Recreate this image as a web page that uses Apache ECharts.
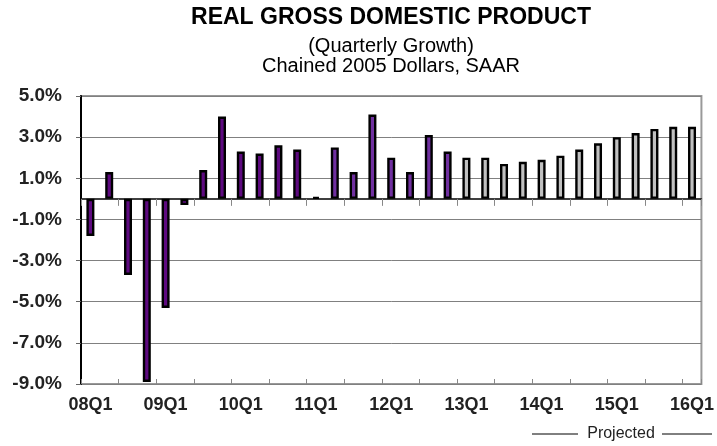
<!DOCTYPE html>
<html>
<head>
<meta charset="utf-8">
<script src="https://cdn.jsdelivr.net/npm/echarts@6/dist/echarts.min.js"></script>
<style>
  html, body { margin: 0; padding: 0; background: #fff; }
  #chart { width: 717px; height: 446px; }
</style>
</head>
<body>
<div id="chart"></div>
<script>
var quarters = ['08Q1', '08Q2', '08Q3', '08Q4', '09Q1', '09Q2', '09Q3', '09Q4',
  '10Q1', '10Q2', '10Q3', '10Q4', '11Q1', '11Q2', '11Q3', '11Q4',
  '12Q1', '12Q2', '12Q3', '12Q4', '13Q1', '13Q2', '13Q3', '13Q4',
  '14Q1', '14Q2', '14Q3', '14Q4', '15Q1', '15Q2', '15Q3', '15Q4', '16Q1'];
// actual growth, first years (dark purple)
var actualEarly = [-1.8, 1.3, -3.7, -8.9, -5.3, -0.3, 1.4, 4.0, 2.3, 2.2, 2.6, 2.4];
// actual growth, later years (lighter purple)
var actualLate = [0.1, 2.5, 1.3, 4.1, 2.0, 1.3, 3.1, 2.3];
// projected growth (gray)
var projected = [2.0, 2.0, 1.7, 1.8, 1.9, 2.1, 2.4, 2.7, 3.0, 3.2, 3.4, 3.5, 3.5];
var yTicks = { min: -9, max: 5, step: 2 };

var font = 'Arial, "Liberation Sans", sans-serif';

var barData = [];
actualEarly.forEach(function (v) {
  barData.push({ value: v, itemStyle: { color: '#5E0A80' } });
});
actualLate.forEach(function (v) {
  barData.push({ value: v, itemStyle: { color: '#7030A0' } });
});
projected.forEach(function (v) {
  barData.push({ value: v, itemStyle: { color: '#C0C0C0' } });
});

var chart = echarts.init(document.getElementById('chart'));
var option = {
  backgroundColor: '#fff',
  animation: false,
  grid: {
    left: 81, right: 13, top: 96, bottom: 62,
    show: true, borderColor: '#999', borderWidth: 2
  },
  xAxis: [
    {
      type: 'category',
      data: quarters,
      position: 'bottom',
      axisLine: { onZero: false, show: false },
      axisTick: { show: false },
      axisLabel: {
        interval: 3, margin: 12,
        fontFamily: font, fontSize: 18, fontWeight: 'bold', color: '#222'
      }
    },
    {
      type: 'category',
      data: quarters,
      position: 'bottom',
      axisLine: { onZero: true, lineStyle: { color: '#000', width: 1.5 } },
      axisTick: { show: true, interval: 1, length: 7, lineStyle: { color: '#888' } },
      axisLabel: { show: false }
    },
    {
      type: 'category',
      data: quarters,
      position: 'bottom',
      axisLine: { onZero: true, show: false },
      axisTick: { show: true, inside: true, interval: 1, length: 5, lineStyle: { color: '#888' } },
      axisLabel: { show: false }
    }
  ],
  yAxis: {
    type: 'value',
    min: yTicks.min,
    max: yTicks.max,
    interval: yTicks.step,
    axisLine: { show: true, lineStyle: { color: '#000', width: 2 } },
    axisTick: { show: true, length: 5, lineStyle: { color: '#666' } },
    splitLine: { lineStyle: { color: '#808080', width: 1 } },
    axisLabel: {
      margin: 19,
      fontFamily: font, fontSize: 19, fontWeight: 'bold', color: '#222',
      formatter: function (v) { return v.toFixed(1) + '%'; }
    }
  },
  series: [{
    type: 'bar',
    xAxisIndex: 0,
    data: barData,
    barWidth: 8,
    itemStyle: { borderColor: '#000', borderWidth: 2.4 }
  }],
  graphic: [
    {
      type: 'text', x: 391, y: 18,
      style: {
        text: 'REAL GROSS DOMESTIC PRODUCT', fontFamily: font, fontSize: 23, fontWeight: 'bold',
        fill: '#000', align: 'center', verticalAlign: 'middle'
      }
    },
    {
      type: 'text', x: 391, y: 46,
      style: { text: '(Quarterly Growth)', fontFamily: font, fontSize: 20, fill: '#000', align: 'center', verticalAlign: 'middle' }
    },
    {
      type: 'text', x: 391, y: 66,
      style: { text: 'Chained 2005 Dollars, SAAR', fontFamily: font, fontSize: 20, fill: '#000', align: 'center', verticalAlign: 'middle' }
    },
    { type: 'line', shape: { x1: 532, y1: 434, x2: 578, y2: 434 }, style: { stroke: '#000', lineWidth: 1 } },
    { type: 'line', shape: { x1: 662, y1: 434, x2: 712, y2: 434 }, style: { stroke: '#000', lineWidth: 1 } },
    {
      type: 'text', x: 621, y: 434,
      style: {
        text: 'Projected', fontFamily: '"Liberation Sans Narrow", ' + font, fontSize: 16, fill: '#222',
        align: 'center', verticalAlign: 'middle'
      }
    }
  ]
};
chart.setOption(option);
</script>
</body>
</html>
